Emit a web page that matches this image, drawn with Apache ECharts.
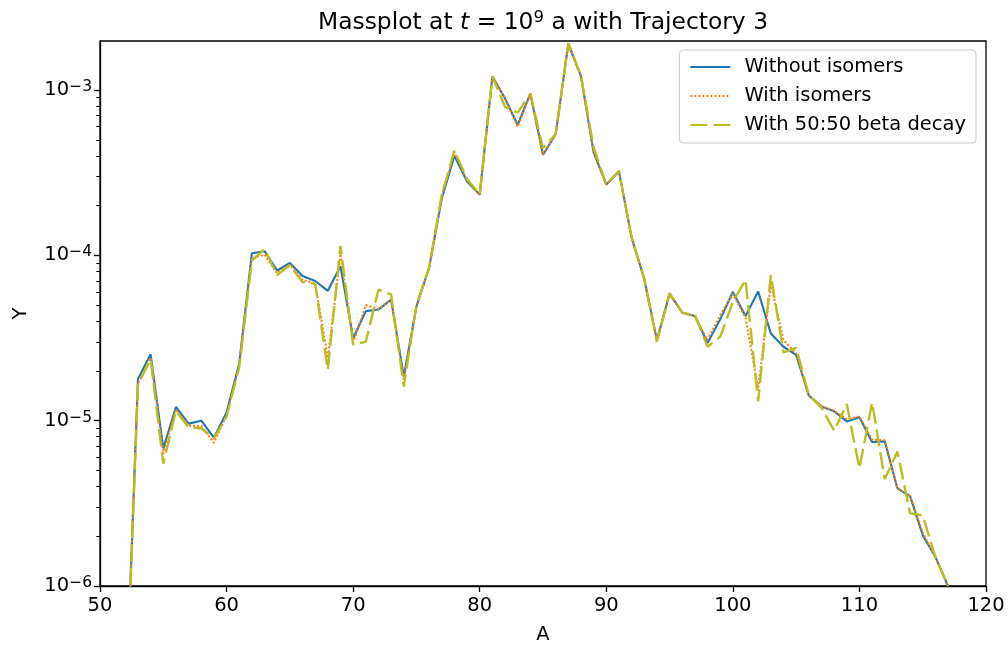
<!DOCTYPE html>
<html>
<head>
<meta charset="utf-8">
<title>Massplot</title>
<script src="https://cdn.jsdelivr.net/npm/echarts@6/dist/echarts.min.js"></script>
<style>
  html, body { margin: 0; padding: 0; background: #fff; }
  #chart { width: 1008px; height: 650px; }
</style>
</head>
<body>
<div id="chart"></div>
<script>
// Mass numbers A
const massNumbers = [52, 53, 54, 55, 56, 57, 58, 59, 60, 61, 62, 63, 64, 65, 66, 67, 68, 69, 70, 71,
  72, 73, 74, 75, 76, 77, 78, 79, 80, 81, 82, 83, 84, 85, 86, 87, 88, 89, 90, 91,
  92, 93, 94, 95, 96, 97, 98, 99, 100, 101, 102, 103, 104, 105, 106, 107, 108, 109, 110, 111,
  112, 113, 114, 115, 116, 117];

// Abundances Y, without isomers
const withoutIsomers = [1.5e-7, 1.79e-5, 2.52e-5, 6.8e-6, 1.21e-5, 9.6e-6, 1.0e-5, 7.9e-6, 1.12e-5, 2.22e-5,
  1.03e-4, 1.06e-4, 8.1e-5, 9.0e-5, 7.5e-5, 7.0e-5, 6.1e-5, 8.6e-5, 3.15e-5, 4.6e-5,
  4.7e-5, 5.4e-5, 1.85e-5, 4.9e-5, 8.4e-5, 2.2e-4, 4.0e-4, 2.8e-4, 2.33e-4, 1.21e-3,
  8.9e-4, 6.15e-4, 9.5e-4, 4.06e-4, 5.4e-4, 1.9e-3, 1.21e-3, 4.2e-4, 2.68e-4, 3.22e-4,
  1.28e-4, 7.2e-5, 3.07e-5, 5.86e-5, 4.5e-5, 4.3e-5, 2.95e-5, 4.1e-5, 6.0e-5, 4.3e-5,
  6.04e-5, 3.37e-5, 2.8e-5, 2.5e-5, 1.42e-5, 1.22e-5, 1.14e-5, 9.9e-6, 1.05e-5, 7.43e-6,
  7.5e-6, 3.9e-6, 3.5e-6, 2.03e-6, 1.5e-6, 1.0e-6];

// Abundances Y, with isomers
const withIsomers = [1.5e-7, 1.68e-5, 2.4e-5, 6.3e-6, 1.17e-5, 9.3e-6, 9.3e-6, 7.35e-6, 1.08e-5, 2.15e-5,
  9.6e-5, 1.01e-4, 7.8e-5, 8.8e-5, 7.1e-5, 6.8e-5, 2.4e-5, 1.02e-4, 2.97e-5, 5.0e-5,
  4.75e-5, 5.4e-5, 1.75e-5, 4.95e-5, 8.4e-5, 2.28e-4, 4.2e-4, 2.85e-4, 2.33e-4, 1.21e-3,
  8.9e-4, 6.0e-4, 9.5e-4, 4.06e-4, 5.4e-4, 1.9e-3, 1.21e-3, 4.25e-4, 2.68e-4, 3.22e-4,
  1.28e-4, 7.2e-5, 3.07e-5, 5.86e-5, 4.5e-5, 4.3e-5, 3.07e-5, 4.34e-5, 5.85e-5, 4.2e-5,
  1.57e-5, 6.7e-5, 3.07e-5, 2.55e-5, 1.43e-5, 1.22e-5, 1.15e-5, 1.02e-5, 1.06e-5, 7.7e-6,
  7.6e-6, 3.9e-6, 3.5e-6, 2.1e-6, 1.5e-6, 1.0e-6];

// Abundances Y, with 50:50 beta decay
const withBetaDecay = [1.5e-7, 1.65e-5, 2.36e-5, 5.5e-6, 1.15e-5, 9.1e-6, 9.0e-6, 7.8e-6, 1.06e-5, 2.1e-5,
  9.3e-5, 1.09e-4, 7.6e-5, 8.7e-5, 6.9e-5, 6.7e-5, 2.03e-5, 1.14e-4, 2.89e-5, 3.0e-5,
  6.2e-5, 5.8e-5, 1.61e-5, 5.0e-5, 8.4e-5, 2.33e-4, 4.3e-4, 2.9e-4, 2.33e-4, 1.21e-3,
  7.9e-4, 7.3e-4, 9.5e-4, 4.45e-4, 5.4e-4, 1.92e-3, 1.22e-3, 4.5e-4, 2.68e-4, 3.25e-4,
  1.28e-4, 7.2e-5, 3.0e-5, 5.9e-5, 4.5e-5, 4.35e-5, 2.8e-5, 3.22e-5, 5.22e-5, 7.13e-5,
  1.31e-5, 7.6e-5, 2.59e-5, 2.76e-5, 1.43e-5, 1.2e-5, 8.7e-6, 1.26e-5, 5.15e-6, 1.29e-5,
  4.43e-6, 6.5e-6, 2.76e-6, 2.67e-6, 1.5e-6, 1.0e-6];

// Axis ticks
const xTicks = [50, 60, 70, 80, 90, 100, 110, 120];
const yMajorTicks = [1e-6, 1e-5, 1e-4, 1e-3];
const yMinorMantissas = [2, 3, 4, 5, 6, 7, 8, 9];

const Y_MIN = 1e-6;
const Y_MAX = 1.98e-3;

const yMinorTicks = [];
yMajorTicks.forEach(function (base) {
  yMinorMantissas.forEach(function (m) {
    const v = base * m;
    if (v < Y_MAX) yMinorTicks.push(v);
  });
});

const FONT = 'DejaVu Sans';
const FS = 19.5;

function pairs(values) {
  return massNumbers.map(function (a, i) { return [a, values[i]]; });
}

// 10^n label with a raised exponent
function powLabel(v) {
  const e = Math.round(Math.log10(v));
  const s = String(e).replace('-', '\u2212');
  return '{b|10}{s|' + s + '}';
}

const chart = echarts.init(document.getElementById('chart'), null, { renderer: 'canvas' });

const axisLineStyle = { color: '#000', width: 1.3 };

chart.setOption({
  animation: false,
  backgroundColor: '#fff',
  textStyle: { fontFamily: FONT },
  title: {
    text: '{n|Massplot at }{i|t}{n| = 10}{s|9}{n| a with Trajectory 3}',
    left: 543,
    textAlign: 'center',
    top: 4,
    padding: [5, 0, 5, 0],
    textStyle: {
      fontWeight: 'normal',
      rich: {
        n: { fontFamily: FONT, fontSize: 23.4, fontWeight: 'normal', color: '#000', lineHeight: 28 },
        i: { fontFamily: FONT, fontSize: 23.4, fontWeight: 'normal', fontStyle: 'italic', color: '#000', lineHeight: 28 },
        s: { fontFamily: FONT, fontSize: 16.5, fontWeight: 'normal', color: '#000', lineHeight: 14, verticalAlign: 'top' }
      }
    }
  },
  legend: {
    orient: 'vertical',
    right: 32,
    top: 50,
    padding: [7, 10, 8, 10],
    itemWidth: 40,
    itemHeight: 14,
    itemGap: 9,
    itemStyle: { opacity: 0 },
    backgroundColor: 'rgba(255,255,255,0.8)',
    borderColor: '#cccccc',
    borderWidth: 1,
    borderRadius: 4,
    textStyle: { fontFamily: FONT, fontSize: FS, color: '#000', lineHeight: 20, padding: [0, 0, 0, 9] },
    data: ['Without isomers', 'With isomers', 'With 50:50 beta decay']
  },
  grid: {
    left: 100,
    right: 22,
    top: 41,
    bottom: 61,
    show: true,
    borderColor: '#000',
    borderWidth: 1.3,
    backgroundColor: 'transparent'
  },
  xAxis: {
    type: 'value',
    min: 50,
    max: 120,
    interval: 10,
    name: 'A',
    nameLocation: 'middle',
    nameGap: 39,
    nameTextStyle: { fontFamily: FONT, fontSize: FS, color: '#000' },
    axisLine: { show: true, lineStyle: axisLineStyle },
    axisTick: { show: true, length: 6, lineStyle: axisLineStyle, customValues: xTicks },
    axisLabel: { fontFamily: FONT, fontSize: FS, color: '#000', margin: 10, customValues: xTicks },
    splitLine: { show: false }
  },
  yAxis: [
    {
      type: 'log',
      logBase: 10,
      min: Y_MIN,
      max: Y_MAX,
      position: 'left',
      name: 'Y',
      nameLocation: 'middle',
      nameGap: 69,
      nameRotate: 90,
      nameTextStyle: { fontFamily: FONT, fontSize: FS, color: '#000' },
      axisLine: { show: true, lineStyle: axisLineStyle },
      axisTick: { show: true, length: 6, lineStyle: axisLineStyle, customValues: yMajorTicks },
      axisLabel: {
        margin: 8,
        customValues: yMajorTicks,
        formatter: powLabel,
        rich: {
          b: { fontFamily: FONT, fontSize: FS, color: '#000', lineHeight: 22 },
          s: { fontFamily: FONT, fontSize: 15.5, color: '#000', lineHeight: 12, verticalAlign: 'top' }
        }
      },
      splitLine: { show: false }
    },
    {
      // minor ticks of the log axis
      type: 'log',
      logBase: 10,
      min: Y_MIN,
      max: Y_MAX,
      position: 'left',
      axisLine: { show: false },
      axisTick: { show: true, length: 3.8, lineStyle: { color: '#000', width: 1 }, customValues: yMinorTicks },
      axisLabel: { show: false },
      splitLine: { show: false }
    }
  ],
  series: [
    {
      name: 'Without isomers',
      type: 'line',
      data: pairs(withoutIsomers),
      showSymbol: false,
      symbol: 'none',
      clip: true,
      color: '#1f77b4',
      lineStyle: { color: '#1f77b4', width: 2.1 },
      z: 2
    },
    {
      name: 'With isomers',
      type: 'line',
      data: pairs(withIsomers),
      showSymbol: false,
      symbol: 'none',
      clip: true,
      color: '#ff7f0e',
      lineStyle: { color: '#ff7f0e', width: 2.1, type: [2, 2] },
      z: 3
    },
    {
      name: 'With 50:50 beta decay',
      type: 'line',
      data: pairs(withBetaDecay),
      showSymbol: false,
      symbol: 'none',
      clip: true,
      color: '#bcbd22',
      lineStyle: { color: '#bcbd22', width: 2.4, type: [17, 6] },
      z: 4
    }
  ]
});
</script>
</body>
</html>
